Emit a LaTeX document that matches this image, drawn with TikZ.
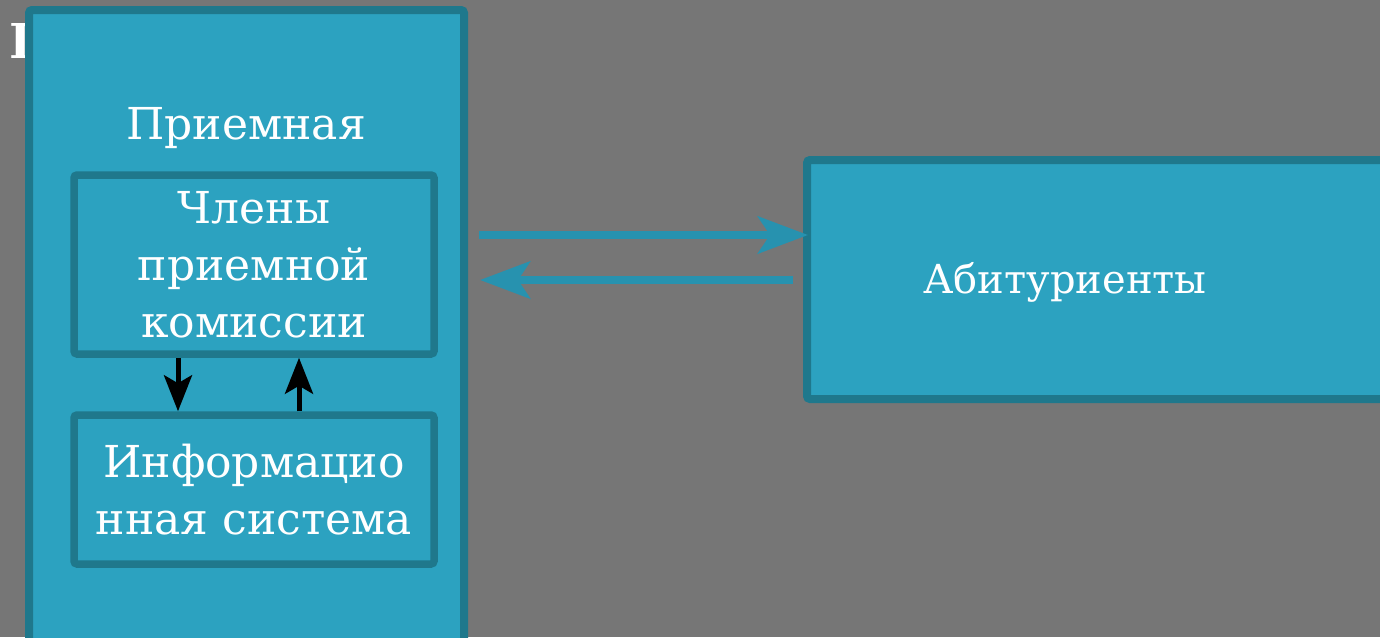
\documentclass[tikz,border=0pt]{standalone}
\usepackage{fontspec}
\setmainfont{DejaVu Serif}
\usetikzlibrary{arrows.meta}
\definecolor{bggray}{HTML}{767676}
\definecolor{tealfill}{HTML}{2CA2C0}
\definecolor{tealedge}{HTML}{1F788C}
\definecolor{tealarrow}{HTML}{2792AF}
\tikzset{
  panel/.style={draw=tealedge, fill=tealfill, line width=8pt, rounded corners=3pt, inner sep=0pt},
  boxtext/.style={text=white, align=center, inner sep=0pt, font=\fontsize{44}{57}\selectfont},
  blackarrow/.style={draw=black, line width=5pt, -{Stealth[length=36pt,width=28pt,inset=8pt]}},
  tealline/.style={draw=tealarrow, line width=8pt, -{Stealth[length=50pt,width=37pt,inset=12pt]}},
}
\begin{document}
\begin{tikzpicture}[x=1pt,y=-1pt]
\useasboundingbox (0,0) rectangle (1380,637);
\fill[bggray] (0,0) rectangle (1380,637);
% partially hidden title glyph
\node[text=white, inner sep=0pt, anchor=base west, font=\bfseries\fontsize{48}{48}\selectfont] (title) at (9,58) {П};
% big left panel
\node[panel, minimum width=435pt, minimum height=650pt] (big) at (246.5,335) {};
\node[boxtext] (priem) at (246,128) {Приемная};
% inner boxes
\node[panel, minimum width=360pt, minimum height=179pt, line width=7.5pt] (members) at (254,264.5) {};
\node[boxtext] (memberstext) at (254,265) {Члены\\приемной\\комиссии};
\node[panel, minimum width=360pt, minimum height=149pt, line width=7.5pt] (info) at (254,489.5) {};
\node[boxtext] (infotext) at (254,490) {Информацио\\нная система};
% black arrows
\draw[blackarrow] ([xshift=-76pt]members.south) -- ([xshift=-76pt]info.north);
\draw[blackarrow] ([xshift=45pt]info.north) -- ([xshift=45pt]members.south);
% right panel
\node[panel, minimum width=593pt, minimum height=239pt] (abit) at (1103.5,279.5) {};
\node[boxtext, font=\fontsize{40}{50}\selectfont] (abittext) at (1065,282) {Абитуриенты};
% teal arrows
\coordinate (r1) at (479,235);
\coordinate (r2) at (808,235);
\coordinate (l1) at (793,280);
\coordinate (l2) at (480,280);
\draw[tealline] (r1) -- (r2);
\draw[tealline] (l1) -- (l2);
\end{tikzpicture}
\end{document}
